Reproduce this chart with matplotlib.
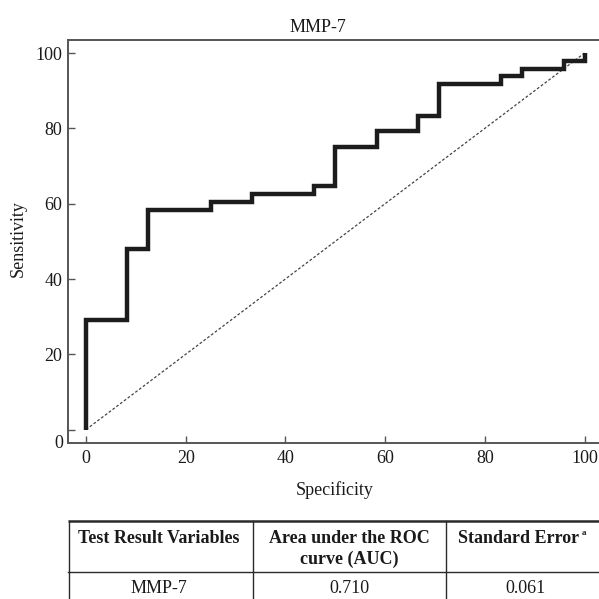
import numpy as np
import matplotlib
matplotlib.use("Agg")
import matplotlib.pyplot as plt

plt.rcParams['font.family'] = ['Liberation Serif', 'DejaVu Serif']
plt.rcParams['font.size'] = 13

# ---- data ----
title = "MMP-7"
spec_steps = [0, 8.3, 12.5, 25, 33.3, 45.8, 50, 58.3, 66.7, 70.8, 83.3, 87.5, 95.8, 100]
sens_levels = [29.2, 47.9, 58.3, 60.4, 62.5, 64.6, 75.0, 79.2, 83.3, 91.7, 93.8, 95.8, 97.9, 100]
sens_start = 0
ref_line = [0, 100]
xticks = [0, 20, 40, 60, 80, 100]
yticks = [0, 20, 40, 60, 80, 100]

table_header = ["Test Result Variables", "Area under the ROC\ncurve (AUC)", "Standard Error"]
table_row = ["MMP-7", "0.710", "0.061"]

W = H = 599
fig = plt.figure(figsize=(W / 100, H / 100), dpi=100)

def fx(px):
    return px / W

def fy(py):
    return 1 - py / H

# axes placement (pixels)
left, right, top, bottom = 68, 599, 40, 443
ax = fig.add_axes([fx(left), fy(bottom), fx(right - left), (bottom - top) / H])

# x: 0 at px 86, 4.985 px per unit ; y: 0 at px 429.6, 3.765 px per unit
ax.set_xlim((left - 86) / 4.985, (right - 86) / 4.985)
ax.set_ylim((429.6 - bottom) / 3.765, (429.6 - top) / 3.765)

px_ = np.repeat(spec_steps, 2)
py_ = np.concatenate([[sens_start], np.repeat(sens_levels, 2)[:-1]])
ax.plot(ref_line, ref_line, color='#444444', lw=0.9, ls=(0, (2.2, 1.6)), zorder=2)
ax.plot(px_, py_, color='#1c1c1c', lw=3.2, solid_joinstyle='miter',
        solid_capstyle='butt', zorder=3)

ax.set_xticks(xticks)
ax.set_yticks(yticks)
ax.set_yticklabels([''] + [str(v) for v in yticks[1:]])
ax.tick_params(direction='in', length=5, width=1.0, color='#555555', labelsize=13,
               labelcolor='#1a1a1a')
ax.tick_params(axis='y', pad=4)
ax.tick_params(axis='x', pad=5)
for s in ['left', 'top', 'bottom']:
    ax.spines[s].set_color('#555555')
    ax.spines[s].set_linewidth(1.4)
ax.spines['right'].set_visible(False)

# overlay axes in pixel coordinates for texts and table
tax = fig.add_axes([0, 0, 1, 1], zorder=5)
tax.set_xlim(0, W)
tax.set_ylim(H, 0)
tax.axis('off')
tax.patch.set_alpha(0)

tc = '#1a1a1a'
tax.text(317.5, 32, title, ha='center', va='baseline', fontsize=13, color=tc)
tax.text(335, 495, "Specificity", ha='center', va='baseline', fontsize=13, color=tc)
tax.text(18.5, 239, "Sensitivity", ha='center', va='center', rotation=90, fontsize=13, color=tc)
tax.text(63, 443, "0", ha='right', va='center', fontsize=13, color=tc)

# table
lc = '#2a2a2a'
tax.plot([68, 610], [521, 521], color=lc, lw=1.8, solid_capstyle='butt')
tax.plot([68, 610], [572, 572], color=lc, lw=1.0)
for xv in [68.5, 253, 446]:
    tax.plot([xv, xv], [521, 605], color=lc, lw=1.0)

col_centers = [159, 349.5, 525]
tax.text(col_centers[0], 543, table_header[0], ha='center', va='baseline',
         fontsize=13, fontweight='bold', color=tc)
l1, l2 = table_header[1].split("\n")
tax.text(col_centers[1], 543, l1, ha='center', va='baseline', fontsize=13,
         fontweight='bold', color=tc)
tax.text(col_centers[1], 564, l2, ha='center', va='baseline', fontsize=13,
         fontweight='bold', color=tc)
tax.text(519, 543, table_header[2], ha='center', va='baseline',
         fontsize=13, fontweight='bold', color=tc)
tax.text(582, 535, "a", ha='left', va='baseline', fontsize=6.5, fontweight='bold', color=tc)
for c, t in zip(col_centers, table_row):
    tax.text(c, 593, t, ha='center', va='baseline', fontsize=13, color=tc)

fig.savefig("out.png", dpi=100)
